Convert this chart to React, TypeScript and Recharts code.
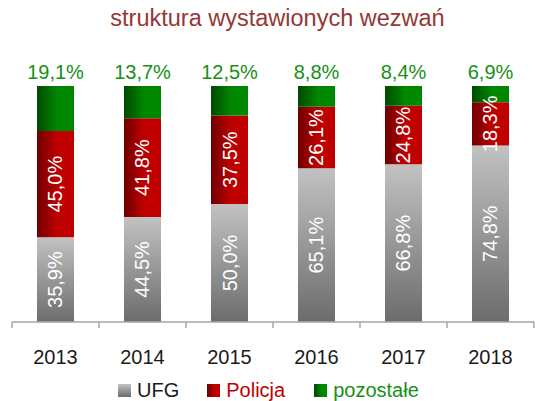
import React from 'react';
import { BarChart, Bar, XAxis, YAxis, LabelList } from 'recharts';

const years = ['2013', '2014', '2015', '2016', '2017', '2018'];
const ufg = [35.9, 44.5, 50.0, 65.1, 66.8, 74.8];
const policja = [45.0, 41.8, 37.5, 26.1, 24.8, 18.3];
const pozostale = [19.1, 13.7, 12.5, 8.8, 8.4, 6.9];
const seriesNames = ['UFG', 'Policja', 'pozostałe'];

const data = years.map((y, i) => ({ year: y, ufg: ufg[i], policja: policja[i], pozostale: pozostale[i] }));

const FONT = '"Liberation Sans", Arial, sans-serif';
const AXIS = '#a6a6a6';
const fmt = (v: number) => v.toFixed(1).replace('.', ',') + '%';

const InsideLabel = (props: any) => {
  const { x, y, width, height, value } = props;
  const cx = x + width / 2;
  const cy = y + height / 2;
  return (
    <text x={cx} y={cy} transform={`rotate(-90, ${cx}, ${cy})`} textAnchor="middle" dominantBaseline="central"
      fill="#ffffff" fontSize={20} fontFamily={FONT}>
      {fmt(value)}
    </text>
  );
};

const TopLabel = (props: any) => {
  const { x, y, width, value } = props;
  return (
    <text x={x + width / 2} y={y - 14} textAnchor="middle" dominantBaseline="central"
      fill="#178f17" fontSize={20} fontFamily={FONT}>
      {fmt(value)}
    </text>
  );
};

// year label plus tick marks at the category boundaries
const YearTick = (props: any) => {
  const { x, y, payload, index } = props;
  const band = (props.width || 522) / years.length;
  const left = x - band / 2;
  const right = x + band / 2;
  return (
    <g>
      <line x1={left} x2={left} y1={y} y2={y + 6} stroke={AXIS} strokeWidth={1.5} />
      {index === years.length - 1 && <line x1={right} x2={right} y1={y} y2={y + 6} stroke={AXIS} strokeWidth={1.5} />}
      <text x={x} y={y} dy={35} textAnchor="middle" dominantBaseline="central" fill="#1a1a1a" fontSize={20} fontFamily={FONT}>
        {payload.value}
      </text>
    </g>
  );
};

const legendColors = ['url(#lgGray)', 'url(#lgRed)', 'url(#lgGreen)'];
const legendText = ['#1a1a1a', '#c00000', '#178f17'];

export default function App() {
  return (
    <div style={{ position: 'absolute', left: 0, top: 0, width: 535, height: 401, background: '#fff', fontFamily: FONT }}>
      <div style={{ position: 'absolute', top: 5, left: 0, width: 535, textAlign: 'center', paddingLeft: 20, boxSizing: 'border-box', color: '#953735', fontSize: 23.5 }}>
        struktura wystawionych wezwań
      </div>
      <BarChart width={535} height={401} data={data} margin={{ top: 86, right: 1, left: 12, bottom: 39 }} barSize={37}>
        <defs>
          <linearGradient id="gGray" x1="0" y1="0" x2="0" y2="1">
            <stop offset="0%" stopColor="#c2c2c2" />
            <stop offset="100%" stopColor="#6c6c6c" />
          </linearGradient>
          <linearGradient id="gRed" x1="0" y1="0" x2="1" y2="0">
            <stop offset="0%" stopColor="#6e0000" />
            <stop offset="55%" stopColor="#c00000" />
            <stop offset="100%" stopColor="#c00000" />
          </linearGradient>
          <linearGradient id="gGreen" x1="0" y1="0" x2="1" y2="0">
            <stop offset="0%" stopColor="#004a00" />
            <stop offset="55%" stopColor="#008800" />
            <stop offset="100%" stopColor="#008800" />
          </linearGradient>
        </defs>
        <XAxis dataKey="year" axisLine={{ stroke: AXIS, strokeWidth: 1.5 }} tickLine={false} tickSize={0} tickMargin={0}
          height={40} tick={<YearTick />} interval={0} />
        <YAxis hide domain={[0, 100]} />
        <Bar dataKey="ufg" stackId="a" fill="url(#gGray)" isAnimationActive={false}>
          <LabelList dataKey="ufg" content={<InsideLabel />} />
        </Bar>
        <Bar dataKey="policja" stackId="a" fill="url(#gRed)" isAnimationActive={false}>
          <LabelList dataKey="policja" content={<InsideLabel />} />
        </Bar>
        <Bar dataKey="pozostale" stackId="a" fill="url(#gGreen)" isAnimationActive={false}>
          <LabelList dataKey="pozostale" content={<TopLabel />} />
        </Bar>
      </BarChart>
      <svg width={0} height={0} style={{ position: 'absolute' }}>
        <defs>
          <linearGradient id="lgGray" x1="0" y1="0" x2="0" y2="1">
            <stop offset="0%" stopColor="#c2c2c2" />
            <stop offset="100%" stopColor="#6c6c6c" />
          </linearGradient>
          <linearGradient id="lgRed" x1="0" y1="0" x2="1" y2="0">
            <stop offset="0%" stopColor="#6e0000" />
            <stop offset="60%" stopColor="#c00000" />
          </linearGradient>
          <linearGradient id="lgGreen" x1="0" y1="0" x2="1" y2="0">
            <stop offset="0%" stopColor="#004a00" />
            <stop offset="60%" stopColor="#008800" />
          </linearGradient>
        </defs>
      </svg>
      <div style={{ position: 'absolute', top: 380, left: 118, display: 'flex', alignItems: 'center', fontSize: 20, lineHeight: '20px' }}>
        {seriesNames.map((n, i) => (
          <div key={n} style={{ display: 'flex', alignItems: 'center', marginRight: i === 0 ? 28 : 29 }}>
            <svg width={13} height={13} style={{ marginRight: 6 }}>
              <rect width={13} height={13} fill={legendColors[i]} />
            </svg>
            <span style={{ color: legendText[i] }}>{n}</span>
          </div>
        ))}
      </div>
    </div>
  );
}
